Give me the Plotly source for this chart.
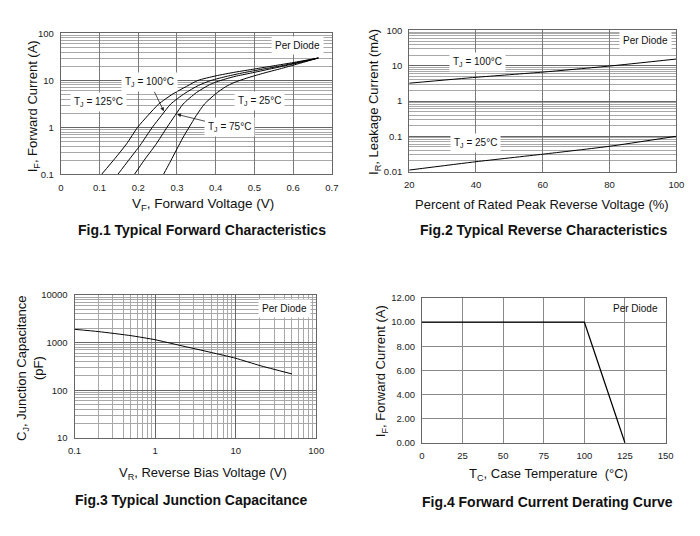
import math
import plotly.graph_objects as go

# ---------------- data ----------------
# Fig.1 forward characteristics (VF in V, IF in A)
vf_125 = [0.105, 0.14, 0.17, 0.198, 0.225, 0.253, 0.29, 0.325, 0.354, 0.40, 0.45, 0.50, 0.55, 0.60, 0.665]
if_125 = [0.1, 0.22, 0.45, 1.0, 1.8, 3.16, 5.2, 7.5, 10, 12.5, 15, 17.5, 20.5, 24, 30]
vf_100 = [0.147, 0.175, 0.205, 0.236, 0.26, 0.284, 0.32, 0.355, 0.388, 0.43, 0.47, 0.52, 0.57, 0.62, 0.665]
if_100 = [0.1, 0.2, 0.42, 1.0, 1.8, 3.16, 5.3, 7.8, 10, 12.3, 14.5, 17.3, 20.5, 25, 30]
vf_75 = [0.19, 0.215, 0.245, 0.274, 0.295, 0.316, 0.35, 0.385, 0.413, 0.45, 0.49, 0.54, 0.59, 0.63, 0.665]
if_75 = [0.1, 0.2, 0.43, 1.0, 1.8, 3.16, 5.5, 8.2, 10, 12.2, 14.3, 17.5, 21.5, 25.5, 30]
vf_25 = [0.265, 0.28, 0.30, 0.315, 0.331, 0.35, 0.371, 0.40, 0.425, 0.447, 0.48, 0.52, 0.57, 0.62, 0.665]
if_25 = [0.1, 0.17, 0.35, 0.6, 1.0, 1.8, 3.16, 5.2, 7.3, 9.0, 11.2, 14, 18, 23.5, 30]

# Fig.2 reverse characteristics (% of rated voltage, IR in mA)
pct = [20, 40, 60, 80, 100]
ir_100 = [3.2, 4.7, 6.6, 9.8, 15.5]
ir_25 = [0.011, 0.019, 0.031, 0.052, 0.1]

# Fig.3 junction capacitance (VR in V, CJ in pF)
vr = [0.1, 0.2, 0.5, 1, 2, 5, 10, 20, 50]
cj = [1900, 1700, 1400, 1150, 880, 620, 470, 330, 220]

# Fig.4 derating (TC in °C, IF in A)
tc = [0, 100, 125]
if_der = [10, 10, 0]

# tick labels
f1_xt = [0, 0.1, 0.2, 0.3, 0.4, 0.5, 0.6, 0.7]
f1_xtl = ["0", "0.1", "0.2", "0.3", "0.4", "0.5", "0.6", "0.7"]
f1_yt = [0.1, 1, 10, 100]
f1_ytl = ["0.1", "1", "10", "100"]
f2_xt = [20, 40, 60, 80, 100]
f2_yt = [0.01, 0.1, 1, 10, 100]
f2_ytl = ["0.01", "0.1", "1", "10", "100"]
f3_xt = [0.1, 1, 10, 100]
f3_xtl = ["0.1", "1", "10", "100"]
f3_yt = [10, 100, 1000, 10000]
f3_ytl = ["10", "100", "1000", "10000"]
f4_xt = [0, 25, 50, 75, 100, 125, 150]
f4_yt = [0, 2, 4, 6, 8, 10, 12]

# ---------------- layout helpers ----------------
W, H = 700, 536
FONT = "Liberation Sans, Arial, sans-serif"


def px(x):
    return x / W


def py(y):
    return 1 - y / H


def minors(e0, e1):
    return [k * 10 ** e for e in range(e0, e1) for k in range(2, 10)]


MAJ = "#7a7a7a"
MIN = "#a8a8a8"
TICKF = dict(family=FONT, size=9.5, color="#222")

fig = go.Figure()

for xs, ys in [(vf_125, if_125), (vf_100, if_100), (vf_75, if_75), (vf_25, if_25)]:
    fig.add_trace(go.Scatter(x=xs, y=ys, mode="lines",
                             line=dict(color="black", width=1, shape="spline", smoothing=0.6),
                             xaxis="x", yaxis="y", showlegend=False))
for ys in [ir_100, ir_25]:
    fig.add_trace(go.Scatter(x=pct, y=ys, mode="lines",
                             line=dict(color="black", width=1, shape="spline", smoothing=0.5),
                             xaxis="x2", yaxis="y2", showlegend=False))
fig.add_trace(go.Scatter(x=vr, y=cj, mode="lines",
                         line=dict(color="black", width=1, shape="spline", smoothing=0.5),
                         xaxis="x3", yaxis="y3", showlegend=False))
fig.add_trace(go.Scatter(x=tc, y=if_der, mode="lines", line=dict(color="black", width=1.3),
                         xaxis="x4", yaxis="y4", showlegend=False))


def ax(domain, anchor, **kw):
    d = dict(domain=domain, anchor=anchor, showline=True, mirror=True, linecolor="#666", linewidth=1,
             showgrid=True, gridcolor=MAJ, gridwidth=1, zeroline=False, tickfont=TICKF,
             ticks="outside", ticklen=4, tickcolor="rgba(0,0,0,0)", fixedrange=True)
    d.update(kw)
    return d


# plot boxes (pixels): left, right, top, bottom
B1 = (55, 332, 28, 172)
B2 = (411, 684, 25, 169)
B3 = (69, 316, 295, 441)
B4 = (424, 673, 298, 446)


def dom(b):
    return [px(b[0]), px(b[1])], [py(b[3]), py(b[2])]


d1x, d1y = dom(B1)
d2x, d2y = dom(B2)
d3x, d3y = dom(B3)
d4x, d4y = dom(B4)

fig.update_layout(
    width=W, height=H, margin=dict(l=0, r=0, t=0, b=0),
    paper_bgcolor="white", plot_bgcolor="white",
    font=dict(family=FONT, color="#222"),
    xaxis=ax(d1x, "y", range=[0, 0.7], tickmode="array", tickvals=f1_xt, ticktext=f1_xtl),
    yaxis=ax(d1y, "x", type="log", range=[-1, 2], tickmode="array", tickvals=f1_yt, ticktext=f1_ytl,
             gridcolor="#666",
             minor=dict(tickmode="array", tickvals=minors(-1, 2), showgrid=True, gridcolor=MIN, gridwidth=0.8)),
    xaxis2=ax(d2x, "y2", range=[20, 100], tickmode="array", tickvals=f2_xt),
    yaxis2=ax(d2y, "x2", type="log", range=[-2, 2], tickmode="array", tickvals=f2_yt, ticktext=f2_ytl,
              gridcolor="#666",
              minor=dict(tickmode="array", tickvals=minors(-2, 2), showgrid=True, gridcolor=MIN, gridwidth=0.8)),
    xaxis3=ax(d3x, "y3", type="log", range=[-1, 2], tickmode="array", tickvals=f3_xt, ticktext=f3_xtl,
              gridcolor="#666",
              minor=dict(tickmode="array", tickvals=minors(-1, 2), showgrid=True, gridcolor=MIN, gridwidth=0.8)),
    yaxis3=ax(d3y, "x3", type="log", range=[1, 4], tickmode="array", tickvals=f3_yt, ticktext=f3_ytl,
              gridcolor="#666",
              minor=dict(tickmode="array", tickvals=minors(1, 4), showgrid=True, gridcolor=MIN, gridwidth=0.8)),
    xaxis4=ax(d4x, "y4", range=[0, 150], tickmode="array", tickvals=f4_xt, gridcolor="#8a8a8a"),
    yaxis4=ax(d4y, "x4", range=[0, 12], tickmode="array", tickvals=f4_yt, tickformat=".2f", gridcolor="#8a8a8a"),
)

ann = []


def txt(x, y, text, size=13, bold=False, angle=0, bg=None):
    a = dict(x=px(x), y=py(y), xref="paper", yref="paper", text=("<b>%s</b>" % text) if bold else text,
             showarrow=False, xanchor="center", yanchor="middle", textangle=angle,
             font=dict(family=FONT, size=size, color="#111"))
    if bg:
        a.update(bgcolor=bg, borderpad=3)
    ann.append(a)


# axis titles
txt(200, 203, "V<sub>F</sub>, Forward Voltage (V)", 13.5)
txt(28, 102, "I<sub>F</sub>, Forward Current (A)", 13, angle=-90)
txt(547, 203, "Percent of Rated Peak Reverse Voltage (%)", 13)
txt(376, 98, "I<sub>R</sub>, Leakage Current (mA)", 13, angle=-90)
txt(200, 477, "V<sub>R</sub>, Reverse Bias Voltage (V)", 13)
txt(24, 370, "C<sub>J</sub>, Junction Capacitance<br>(pF)", 13, angle=-90)
txt(553, 478, "T<sub>C</sub>, Case Temperature  (°C)", 13)
txt(383, 373, "I<sub>F</sub>, Forward Current (A)", 13, angle=-90)

# figure titles
txt(199, 229, "Fig.1 Typical Forward Characteristics", 14, bold=True)
txt(548, 229, "Fig.2 Typical Reverse Characteristics", 14, bold=True)
txt(189, 504, "Fig.3 Typical Junction Capacitance", 14, bold=True)
txt(552, 506, "Fig.4 Forward Current Derating Curve", 14, bold=True)

# in-plot labels
txt(297, 40, "Per Diode", 10, bg="white")
txt(652, 35, "Per Diode", 10, bg="white")
txt(284, 309, "Per Diode", 10, bg="white")
txt(642, 309, "Per Diode", 10)
txt(94, 98, "T<sub>J</sub> = 125°C", 10, bg="white")
txt(258, 97, "T<sub>J</sub> = 25°C", 10, bg="white")
txt(481, 57, "T<sub>J</sub> = 100°C", 10, bg="white")
txt(479, 140, "T<sub>J</sub> = 25°C", 10, bg="white")

# arrowed labels in Fig.1
for (tx, ty, axp, ayp, text) in [(0.266, 2.2, -14, -29, "T<sub>J</sub> = 100°C"),
                                 (0.300, 1.9, 53, 13, "T<sub>J</sub> = 75°C")]:
    ann.append(dict(x=tx, y=math.log10(ty), xref="x", yref="y", ax=axp, ay=ayp,
                    axref="pixel", ayref="pixel", text=text, showarrow=True, arrowhead=2, arrowsize=1,
                    arrowwidth=0.8, arrowcolor="#222", bgcolor="white", borderpad=3,
                    font=dict(family=FONT, size=10, color="#111")))

fig.update_layout(annotations=ann)
fig.write_html("out.html")
